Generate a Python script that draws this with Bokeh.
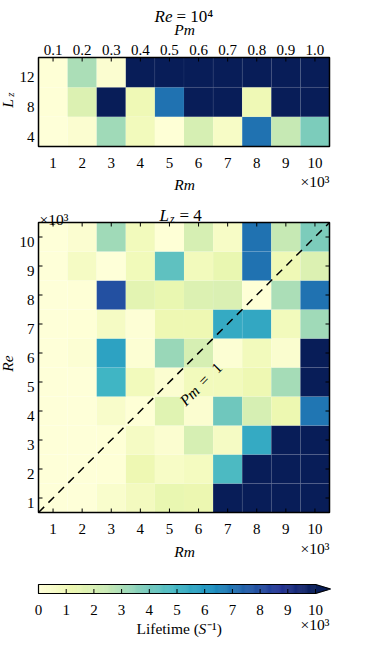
import math
import numpy as np
from bokeh.plotting import figure
from bokeh.models import ColumnDataSource, LinearColorMapper, Range1d
from bokeh.core.properties import value
from bokeh.embed import file_html
from bokeh.resources import INLINE
from bokeh.palettes import YlGnBu9
from bokeh.transform import transform

# ---------------- data (lifetimes in units of 10^3 S^-1) ----------------
rm = [1, 2, 3, 4, 5, 6, 7, 8, 9, 10]          # Rm / 10^3
rm_labels = ["1", "2", "3", "4", "5", "6", "7", "8", "9", "10"]
re_vals = [1, 2, 3, 4, 5, 6, 7, 8, 9, 10]     # Re / 10^3
re_labels = ["1", "2", "3", "4", "5", "6", "7", "8", "9", "10"]
lz = [4, 8, 12]
lz_labels = ["4", "8", "12"]
pm_labels = ["0.1", "0.2", "0.3", "0.4", "0.5", "0.6", "0.7", "0.8", "0.9", "1.0"]
cbar_ticks = [0, 1, 2, 3, 4, 5, 6, 7, 8, 9, 10]
cbar_labels = ["0", "1", "2", "3", "4", "5", "6", "7", "8", "9", "10"]
OVER = 12.0  # beyond the colour scale

# top panel: Re = 10^4
life_lz4 = [0.05, 0.3, 3.2, 0.9, 0.1, 2.0, 0.6, 7.0, 2.5, 3.8]
life_lz8 = [0.1, 1.8, OVER, 1.1, 7.0, OVER, OVER, 1.1, OVER, OVER]
life_lz12 = [0.1, 3.0, 0.3, OVER, OVER, OVER, OVER, OVER, OVER, OVER]

# bottom panel: Lz = 4, rows Re = 1..10
life_re1 = [0.05, 0.05, 0.4, 0.85, 1.4, 1.3, OVER, OVER, OVER, OVER]
life_re2 = [0.05, 0.05, 0.1, 1.2, 0.6, 0.8, 4.8, OVER, OVER, OVER]
life_re3 = [0.05, 0.05, 0.1, 0.7, 0.3, 2.0, 0.7, 5.4, OVER, OVER]
life_re4 = [0.05, 0.05, 0.5, 0.1, 1.7, 0.3, 4.1, 2.0, 1.25, 6.9]
life_re5 = [0.05, 0.05, 5.0, 0.9, 0.3, 0.9, 0.9, 1.2, 3.1, OVER]
life_re6 = [0.05, 0.2, 5.7, 0.2, 3.3, 2.0, 0.2, 0.9, 0.35, OVER]
life_re7 = [0.05, 0.1, 0.7, 0.15, 1.2, 1.2, 5.4, 5.5, 0.9, 3.2]
life_re8 = [0.05, 0.1, 7.9, 1.6, 1.4, 1.8, 1.9, 0.1, 3.0, 7.0]
life_re9 = [0.05, 0.7, 0.05, 1.0, 4.4, 0.9, 1.4, 7.0, 1.1, 1.8]
life_re10 = [0.05, 0.3, 3.2, 0.9, 0.1, 2.0, 0.6, 7.0, 2.5, 3.8]

top_rows = [life_lz4, life_lz8, life_lz12]
bottom_rows = [life_re1, life_re2, life_re3, life_re4, life_re5,
               life_re6, life_re7, life_re8, life_re9, life_re10]

# ---------------- style ----------------
FONT = "Liberation Serif"
TICK = 15
CW, CH = 356, 638       # canvas size
OFF = 8                 # page margin

anchors = list(reversed(YlGnBu9))
def _rgb(h):
    return [int(h[i:i + 2], 16) for i in (1, 3, 5)]
arr = np.array([_rgb(c) for c in anchors], dtype=float)
pos = np.linspace(0, 1, len(anchors))
tt = np.linspace(0, 1, 256)
palette = ["#%02x%02x%02x" % tuple(int(round(np.interp(t, pos, arr[:, k]))) for k in range(3)) for t in tt]
NAVY = anchors[-1]
mapper = LinearColorMapper(palette=palette, low=cbar_ticks[0], high=cbar_ticks[-1], high_color=NAVY)


class Panel:
    """Maps a data box onto a pixel box (page coordinates) of the full canvas."""
    def __init__(self, name, fl, ft, fw, fh, x0, x1, y0, y1):
        self.name = name
        self.x0, self.x1, self.y0, self.y1 = x0, x1, y0, y1
        self.ppx = fw / (x1 - x0)
        self.ppy = fh / (y1 - y0)
        self.xs = x0 - (fl - OFF) / self.ppx
        self.ye = y1 + (ft - OFF) / self.ppy
        self.xr = Range1d(self.xs, self.xs + CW / self.ppx)
        self.yr = Range1d(self.ye - CH / self.ppy, self.ye)

    def X(self, px):
        return self.xs + (px - OFF) / self.ppx

    def Y(self, py):
        return self.ye - (py - OFF) / self.ppy


A = Panel("A", 46, 65, 291, 89, rm[0] - 0.5, rm[-1] + 0.5, lz[0] - 2, lz[-1] + 2)
B = Panel("B", 46, 230, 291, 290, rm[0] - 0.5, rm[-1] + 0.5, re_vals[0] - 0.5, re_vals[-1] + 0.5)
C = Panel("C", 46, 592, 277, 9, cbar_ticks[0], cbar_ticks[-1], 0, 1)

p = figure(width=CW, height=CH, x_range=B.xr, y_range=B.yr,
           x_axis_type=None, y_axis_type=None, title=None,
           toolbar_location=None, output_backend="svg", min_border=0)
p.extra_x_ranges = {"A": A.xr, "C": C.xr}
p.extra_y_ranges = {"A": A.yr, "C": C.yr}
p.grid.visible = False
p.outline_line_color = None
p.background_fill_color = "white"
p.border_fill_color = "white"


def rn(panel):
    if panel.name == "B":
        return {}
    return dict(x_range_name=panel.name, y_range_name=panel.name)


def texts(panel, xs, ys, labels, size, style="normal", align="center", angle=0.0):
    p.text(x=xs, y=ys, text=labels, text_font=value(FONT),
           text_font_size=value(f"{size}px"), text_font_style=style,
           text_align=align, text_baseline="alphabetic", angle=angle,
           text_color="black", **rn(panel))


def txt(panel, px, py, label, size, style="normal", align="center", angle=0.0):
    texts(panel, [panel.X(px)], [panel.Y(py)], [label], size, style, align, angle)


def xticks(panel, ticks, at_y, inward_px):
    p.segment(x0=ticks, y0=[at_y] * len(ticks), x1=ticks,
              y1=[at_y + inward_px / panel.ppy] * len(ticks),
              line_color="black", line_width=1, **rn(panel))


def yticks(panel, ticks, at_x, inward_px):
    p.segment(x0=[at_x] * len(ticks), y0=ticks, x1=[at_x + inward_px / panel.ppx] * len(ticks),
              y1=ticks, line_color="black", line_width=1, **rn(panel))


def frame(panel):
    p.quad(left=panel.x0, right=panel.x1, bottom=panel.y0, top=panel.y1,
           fill_color=None, line_color="black", line_width=1.5, **rn(panel))


UP = math.pi / 2
DIAG = math.pi / 4

# ---------------- top panel ----------------
xs, ys, vs = [], [], []
for lzv, row in zip(lz, top_rows):
    for r, v in zip(rm, row):
        xs.append(r); ys.append(lzv); vs.append(v)
srcA = ColumnDataSource(dict(x=xs, y=ys, v=vs))
p.rect(x="x", y="y", width=1, height=lz[1] - lz[0], source=srcA,
       fill_color=transform("v", mapper), line_color="white", line_alpha=0.08,
       line_width=0.6, **rn(A))
xticks(A, rm, A.y1, -4)
frame(A)
texts(A, rm, [A.Y(57)] * len(rm), pm_labels, TICK)
texts(A, rm, [A.Y(170.5)] * len(rm), rm_labels, TICK)
texts(A, [A.X(42)] * len(lz), [v - 5 / A.ppy for v in lz], lz_labels, TICK, align="right")

txt(A, 180, 24, "Re", 17, "italic", "right")
txt(A, 184, 24, "= 10\u2074", 17, "normal", "left")
txt(A, 192, 37, "Pm", 15.5, "italic", "center")
txt(A, 14.5, 111, "L", 15.5, "italic", "center", UP)
txt(A, 17.5, 102, "z", 11, "italic", "center", UP)
txt(A, 192, 192, "Rm", 15.5, "italic", "center")
txt(A, 337, 189, "\u00d710\u00b3", 15.5, "normal", "right")

# ---------------- bottom panel ----------------
xs, ys, vs = [], [], []
for rev, row in zip(re_vals, bottom_rows):
    for r, v in zip(rm, row):
        xs.append(r); ys.append(rev); vs.append(v)
srcB = ColumnDataSource(dict(x=xs, y=ys, v=vs))
p.rect(x="x", y="y", width=1, height=1, source=srcB,
       fill_color=transform("v", mapper), line_color="white", line_alpha=0.08, line_width=0.6)

# Pm = 1 line (Re = Rm)
p.line([B.x0, B.x1], [B.y0, B.y1], line_color="black", line_width=1.5, line_dash="8 6")

xticks(B, rm, B.y0, 4)
xticks(B, rm, B.y1, -4)
yticks(B, re_vals, B.x0, 4)
yticks(B, re_vals, B.x1, -4)
frame(B)
texts(B, rm, [B.Y(536.5)] * len(rm), rm_labels, TICK)
texts(B, [B.X(42)] * len(re_vals), [v - 5 / B.ppy for v in re_vals], re_labels, TICK, align="right")

txt(B, 47, 227, "\u00d710\u00b3", 15.5, "normal", "left")
txt(B, 167, 223, "L", 17, "italic", "left")
txt(B, 177.5, 226.5, "z", 11.5, "italic", "left")
txt(B, 187, 223, "= 4", 17, "normal", "left")
txt(B, 14.5, 371, "Re", 15.5, "italic", "center", UP)
txt(B, 192, 559, "Rm", 15.5, "italic", "center")
txt(B, 337, 555.5, "\u00d710\u00b3", 15.5, "normal", "right")
# "Pm = 1" along the dashed line
txt(B, 189.7, 410.3, "Pm", 15.5, "italic", "left", DIAG)
txt(B, 208, 390.5, "=", 15.5, "normal", "left", DIAG)
txt(B, 224.5, 375.5, "1", 15.5, "normal", "center", DIAG)

# ---------------- colour bar ----------------
xmax = C.X(338)
edges = np.linspace(cbar_ticks[0], cbar_ticks[-1], len(palette) + 1)
p.quad(left=edges[:-1], right=edges[1:], bottom=C.y0, top=C.y1, fill_color=palette,
       line_color=palette, line_width=0.6, **rn(C))
p.patch([C.x1, xmax, C.x1], [C.y0, (C.y0 + C.y1) / 2, C.y1], fill_color=NAVY,
        line_color=NAVY, line_width=0.5, **rn(C))
p.patch([C.x0, C.x1, xmax, C.x1, C.x0], [C.y0, C.y0, (C.y0 + C.y1) / 2, C.y1, C.y1],
        fill_color=None, line_color="black", line_width=1.2, **rn(C))
xticks(C, cbar_ticks, C.y0, 4.5)
texts(C, cbar_ticks, [C.Y(617.5)] * len(cbar_ticks), cbar_labels, TICK)

txt(C, 144, 636, "Lifetime (", 15.5, "normal", "left")
txt(C, 206, 636, "S", 15.5, "italic", "left")
txt(C, 214.5, 636, "\u207b\u00b9)", 15.5, "normal", "left")
txt(C, 337, 632, "\u00d710\u00b3", 15.5, "normal", "right")

open("out.html", "w").write(file_html(p, INLINE))
